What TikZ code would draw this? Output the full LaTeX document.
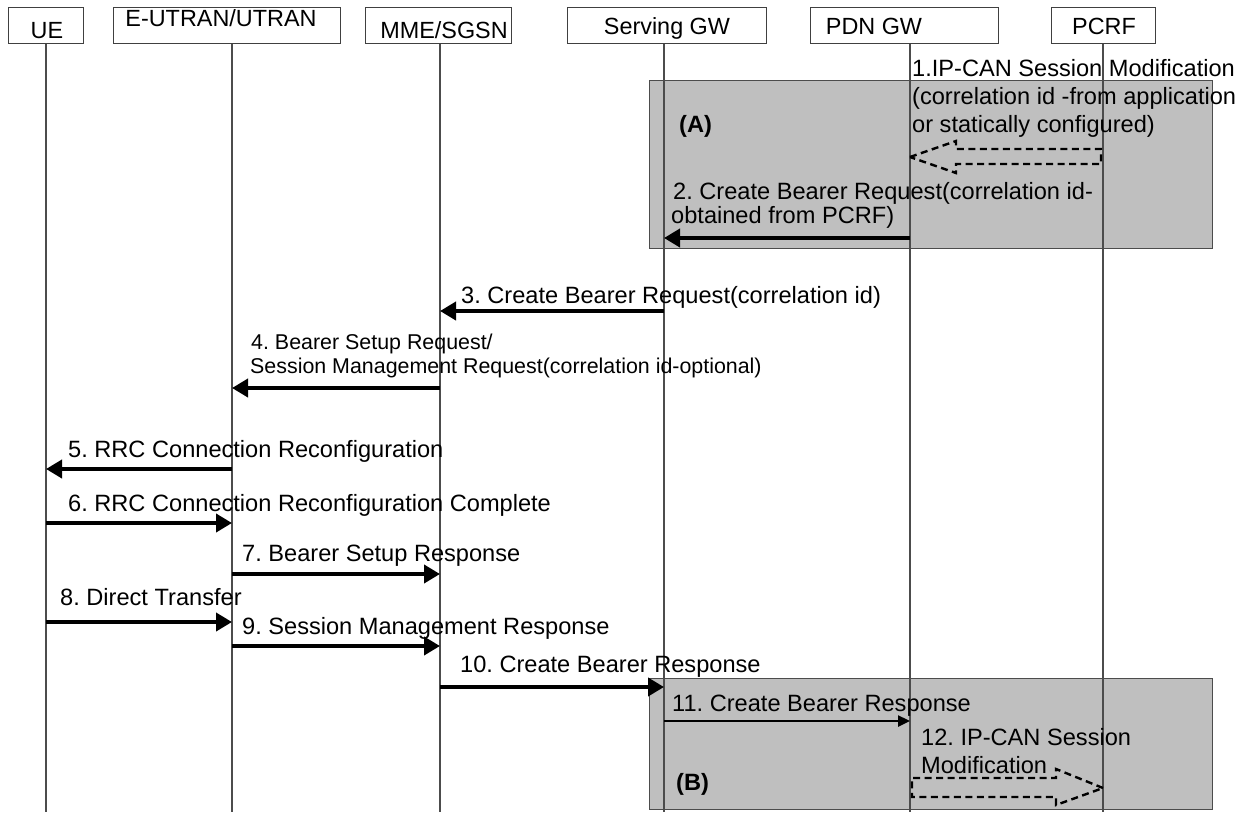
\documentclass[tikz,border=0pt]{standalone}
\usepackage{fontspec}
\setmainfont{Liberation Sans}
\usetikzlibrary{arrows.meta,calc}
\frenchspacing

\begin{document}
\begin{tikzpicture}[x=1pt,y=-1pt,
  hdr/.style={draw=black!75, line width=1pt, fill=white, inner sep=0, anchor=north west, minimum height=36pt},
  htxt/.style={font=\fontsize{23.4}{27}\selectfont, inner sep=0, anchor=base},
  msg/.style={font=\fontsize{23.6}{28}\selectfont, inner sep=0, anchor=base west},
  smallmsg/.style={font=\fontsize{21.4}{25}\selectfont, inner sep=0, anchor=base west},
  tag/.style={font=\bfseries\fontsize{23.6}{28}\selectfont, inner sep=0, anchor=base west},
  life/.style={draw=black!70, line width=1.1pt},
  zone/.style={fill=black!25, draw=black!70, line width=1pt, inner sep=0, anchor=north west},
  sig/.style={line width=3.8pt, -{Triangle[length=16pt,width=18pt]}},
  thinsig/.style={line width=2.4pt, -{Triangle[length=12pt,width=11pt]}},
  dashblk/.style={draw=black, line width=2.4pt, dash pattern=on 7pt off 4.5pt, line join=miter}
]
\useasboundingbox (0,0) rectangle (1251,812);
\fill[white] (0,0) rectangle (1251,812);

% shaded regions (A) and (B)
\node[zone, minimum width=563pt, minimum height=168pt] (zoneA) at (649,80) {};
\node[zone, minimum width=563pt, minimum height=131pt] (zoneB) at (649,678) {};

% lifelines
\coordinate (bot) at (0,812);
\coordinate (L-ue)   at (46,43);
\coordinate (L-enb)  at (232,43);
\coordinate (L-mme)  at (440,43);
\coordinate (L-sgw)  at (664,43);
\coordinate (L-pgw)  at (910,43);
\coordinate (L-pcrf) at (1103,43);
\foreach \l in {ue,enb,mme,sgw,pgw,pcrf}
  \draw[life] (L-\l) -- (L-\l |- bot);

% entity boxes
\node[hdr, minimum width=75pt]  (ue)   at (8,7) {};
\node[hdr, minimum width=227pt] (enb)  at (113,7) {};
\node[hdr, minimum width=146pt] (mme)  at (365,7) {};
\node[hdr, minimum width=199pt] (sgw)  at (567,7) {};
\node[hdr, minimum width=188pt] (pgw)  at (810,7) {};
\node[hdr, minimum width=104pt] (pcrf) at (1051,7) {};
\node[htxt] (ue-t)   at (47,38)   {UE};
\node[htxt] (enb-t)  at (221,26)  {E-UTRAN/UTRAN};
\node[htxt] (mme-t)  at (444,38)  {MME/SGSN};
\node[htxt] (sgw-t)  at (667,34)  {Serving GW};
\node[htxt] (pgw-t)  at (874,34)  {PDN GW};
\node[htxt] (pcrf-t) at (1104,34) {PCRF};

% message levels
\coordinate (y1)  at (0,157);
\coordinate (y2)  at (0,238);
\coordinate (y3)  at (0,311);
\coordinate (y4)  at (0,388);
\coordinate (y5)  at (0,469);
\coordinate (y6)  at (0,523);
\coordinate (y7)  at (0,574);
\coordinate (y8)  at (0,622);
\coordinate (y9)  at (0,646);
\coordinate (y10) at (0,687);
\coordinate (y11) at (0,721);
\coordinate (y12) at (0,788);

% 1. PCRF -> PDN GW (dashed block arrow)
\draw[dashblk] (L-pgw |- y1) -- ++(46,-16) -- ++(0,8)
  -- ($(L-pcrf |- y1)+(-2,-8)$) -- ++(0,15)
  -- ($(L-pgw |- y1)+(46,7)$) -- ++(0,9) -- cycle;
% 12. PDN GW -> PCRF (dashed block arrow)
\draw[dashblk] (L-pcrf |- y12) -- ++(-47,-19) -- ++(0,9)
  -- ($(L-pgw |- y12)+(2,-10)$) -- ++(0,19)
  -- ($(L-pcrf |- y12)+(-47,9)$) -- ++(0,8) -- cycle;

% signalling arrows
\draw[sig] (L-pgw |- y2) -- (L-sgw |- y2);
\draw[sig] (L-sgw |- y3) -- (L-mme |- y3);
\draw[sig] (L-mme |- y4) -- (L-enb |- y4);
\draw[sig] (L-enb |- y5) -- (L-ue |- y5);
\draw[sig] (L-ue |- y6)  -- (L-enb |- y6);
\draw[sig] (L-enb |- y7) -- (L-mme |- y7);
\draw[sig] (L-ue |- y8)  -- (L-enb |- y8);
\draw[sig] (L-enb |- y9) -- (L-mme |- y9);
\draw[sig] (L-mme |- y10) -- (L-sgw |- y10);
\draw[thinsig] (L-sgw |- y11) -- (L-pgw |- y11);

% labels
\node[tag] (tagA) at (679,132) {(A)};
\node[tag] (tagB) at (676,790) {(B)};
\node[msg] (m1a) at (912,76)  {1.IP-CAN Session Modification};
\node[msg] (m1b) at (912,104) {(correlation id -from application};
\node[msg] (m1c) at (912,132) {or statically configured)};
\node[msg] (m2a) at (673,199) {2. Create Bearer Request(correlation id-};
\node[msg] (m2b) at (671,223) {obtained from PCRF)};
\node[msg] (m3)  at (461,303) {3. Create Bearer Request(correlation id)};
\node[smallmsg] (m4a) at (251,349) {4. Bearer Setup Request/};
\node[smallmsg] (m4b) at (250,373) {Session Management Request(correlation id-optional)};
\node[msg] (m5)  at (68,457)  {5. RRC Connection Reconfiguration};
\node[msg] (m6)  at (68,511)  {6. RRC Connection Reconfiguration Complete};
\node[msg] (m7)  at (242,561) {7. Bearer Setup Response};
\node[msg] (m8)  at (60,605)  {8. Direct Transfer};
\node[msg] (m9)  at (242,634) {9. Session Management Response};
\node[msg] (m10) at (460,672) {10. Create Bearer Response};
\node[msg] (m11) at (672,711) {11. Create Bearer Response};
\node[msg] (m12a) at (921,745) {12. IP-CAN Session};
\node[msg] (m12b) at (921,773) {Modification};
\end{tikzpicture}
\end{document}
